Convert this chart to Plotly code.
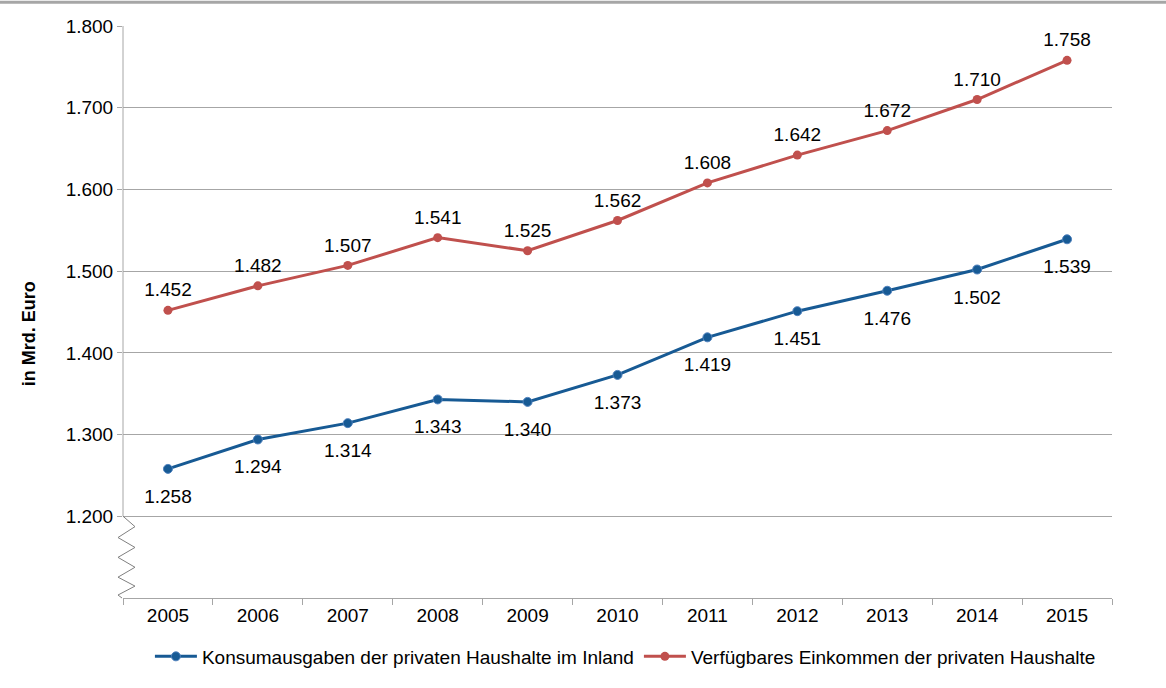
import plotly.graph_objects as go

years = ["2005", "2006", "2007", "2008", "2009", "2010", "2011", "2012", "2013", "2014", "2015"]
konsum = [1258, 1294, 1314, 1343, 1340, 1373, 1419, 1451, 1476, 1502, 1539]
einkommen = [1452, 1482, 1507, 1541, 1525, 1562, 1608, 1642, 1672, 1710, 1758]
name_konsum = "Konsumausgaben der privaten Haushalte im Inland"
name_eink = "Verfügbares Einkommen der privaten Haushalte"
y_ticks = [1200, 1300, 1400, 1500, 1600, 1700, 1800]

BLUE = "#175A94"
RED = "#C0504D"
FONT = "Arial, Liberation Sans, sans-serif"

L, R, T, B = 123, 54, 26, 85
W, H = 1166, 688
PW, PH = W - L - R, H - T - B


def px(xp):
    return (xp - L) / PW


def py(yp):
    return (H - B - yp) / PH


fig = go.Figure()
fig.add_trace(go.Scatter(
    x=years, y=konsum, name=name_konsum, mode="lines+markers",
    line=dict(color=BLUE, width=3),
    marker=dict(size=9, color=BLUE, line=dict(color="#4F81BD", width=1)),
))
fig.add_trace(go.Scatter(
    x=years, y=einkommen, name=name_eink, mode="lines+markers",
    line=dict(color=RED, width=3),
    marker=dict(size=9, color=RED),
))
# data labels (invisible larger markers give the label offset)
fig.add_trace(go.Scatter(
    x=years, y=konsum, mode="markers+text", showlegend=False, hoverinfo="skip",
    marker=dict(size=30, opacity=0),
    text=[f"{v/1000:.3f}" for v in konsum],
    textposition="bottom center", textfont=dict(size=19, color="#000000", family=FONT),
    cliponaxis=False,
))
fig.add_trace(go.Scatter(
    x=years, y=einkommen, mode="markers+text", showlegend=False, hoverinfo="skip",
    marker=dict(size=13, opacity=0),
    text=[f"{v/1000:.3f}" for v in einkommen],
    textposition="top center", textfont=dict(size=19, color="#000000", family=FONT),
    cliponaxis=False,
))

# y-axis line (1.200 - 1.800) and axis break zigzag
fig.add_shape(type="line", xref="paper", yref="paper", x0=0, x1=0, y0=py(520.5), y1=1,
              line=dict(color="#A6A6A6", width=1), layer="above")
zz_px = [123, 135, 118, 135, 118, 135, 118, 135, 118, 122]
zz_py = [520.5, 531, 542, 552, 562, 572, 582, 591, 600, 603]
path = "M " + " L ".join(f"{px(a):.5f},{py(b):.5f}" for a, b in zip(zz_px, zz_py))
fig.add_shape(type="path", xref="paper", yref="paper", path=path,
              line=dict(color="#808080", width=1), layer="above")
# top border line
fig.add_shape(type="line", xref="paper", yref="paper", x0=px(0), x1=px(W), y0=py(2), y1=py(2),
              line=dict(color="#A6A6A6", width=3))

fig.add_annotation(text="<b>in Mrd. Euro</b>", xref="paper", yref="paper",
                   x=px(29), y=py(337), xanchor="center", yanchor="middle",
                   textangle=-90, showarrow=False,
                   font=dict(size=18, family=FONT, color="#000000"))

fig.update_layout(
    width=W, height=H,
    margin=dict(l=L, r=R, t=T, b=B),
    paper_bgcolor="white", plot_bgcolor="white",
    font=dict(family=FONT, size=19, color="#000000"),
    separators=",.",
    showlegend=True,
    legend=dict(orientation="h", x=0.508, xanchor="center", y=py(662), yanchor="middle",
                font=dict(size=19), traceorder="normal", itemwidth=42),
    xaxis=dict(type="category", range=[-0.5, 10.5], showgrid=False, automargin=False,
               showline=True, linecolor="#A6A6A6", linewidth=1,
               ticks="outside", tickson="boundaries", ticklen=6, tickcolor="#A6A6A6",
               tickfont=dict(size=19), fixedrange=True),
    yaxis=dict(range=[1100, 1800], tickvals=y_ticks, automargin=False,
               ticktext=[f"{v/1000:.3f}" for v in y_ticks],
               showgrid=True, gridcolor="#A6A6A6", gridwidth=1,
               showline=False, zeroline=False,
               ticks="outside", ticklen=5, tickcolor="#A6A6A6",
               tickfont=dict(size=19)),
)
fig.write_html("out.html", config={"displayModeBar": False},
               post_script="document.body.style.margin='0px';document.body.style.overflow='hidden';")
